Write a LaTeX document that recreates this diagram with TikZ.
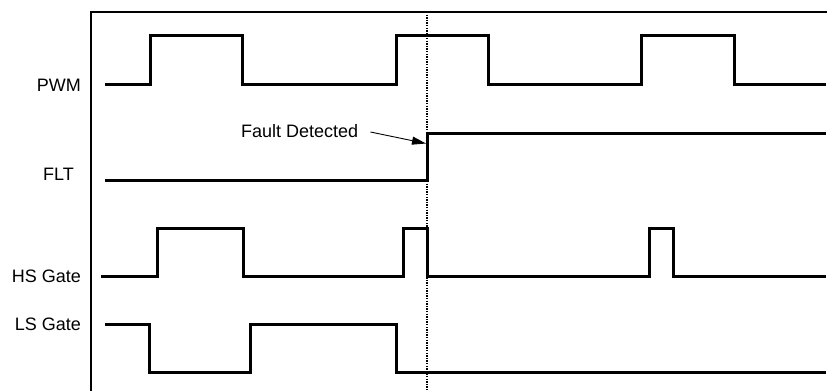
\documentclass[tikz,border=0pt]{standalone}
\usepackage{fontspec}
\setmainfont{Liberation Sans}
\usetikzlibrary{arrows.meta}
\begin{document}
\begin{tikzpicture}[x=1pt,y=-1pt,
  sig/.style={line width=3pt},
  frame/.style={line width=2pt},
  faultline/.style={line width=1.4pt,dash pattern=on 1.4pt off 1.2pt},
  lbl/.style={font=\fontsize{18}{20}\selectfont,inner sep=0pt},
  pointer/.style={line width=0.9pt,-{Triangle[length=14pt,width=8pt]}}]
\useasboundingbox (0,0) rectangle (827,391);
% frame
\draw[frame] (91,391) -- (91,12) -- (827,12);
% fault instant
\draw[faultline] (427,12) -- (427,391);
% labels
\node[lbl,anchor=base east] (pwm) at (81,91) {PWM};
\node[lbl,anchor=base east] (flt) at (74,180) {FLT};
\node[lbl,anchor=base east] (hs) at (81,282) {HS Gate};
\node[lbl,anchor=base east] (ls) at (81,330) {LS Gate};
\node[lbl,anchor=base west] (fd) at (241,137.5) {Fault Detected};
% PWM
\draw[sig] (105,84) -- (150,84) -- (150,35) -- (242,35) -- (242,84) -- (396,84) -- (396,35)
  -- (488,35) -- (488,84) -- (641,84) -- (641,35) -- (734,35) -- (734,84) -- (826,84);
% FLT
\draw[sig] (105,180) -- (427,180) -- (427,133) -- (826,133);
% HS Gate
\draw[sig] (101,276) -- (157,276) -- (157,228) -- (243,228) -- (243,276) -- (403,276) -- (403,228)
  -- (427,228) -- (427,276) -- (649,276) -- (649,228) -- (673,228) -- (673,276) -- (826,276);
% LS Gate
\draw[sig] (105,324) -- (149,324) -- (149,372) -- (250,372) -- (250,324) -- (396,324) -- (396,372) -- (826,372);
% arrow
\coordinate (edge) at (426,143.5);
\draw[pointer] (fd.east |- 0,132) ++(12,0) -- (edge);
\end{tikzpicture}
\end{document}
